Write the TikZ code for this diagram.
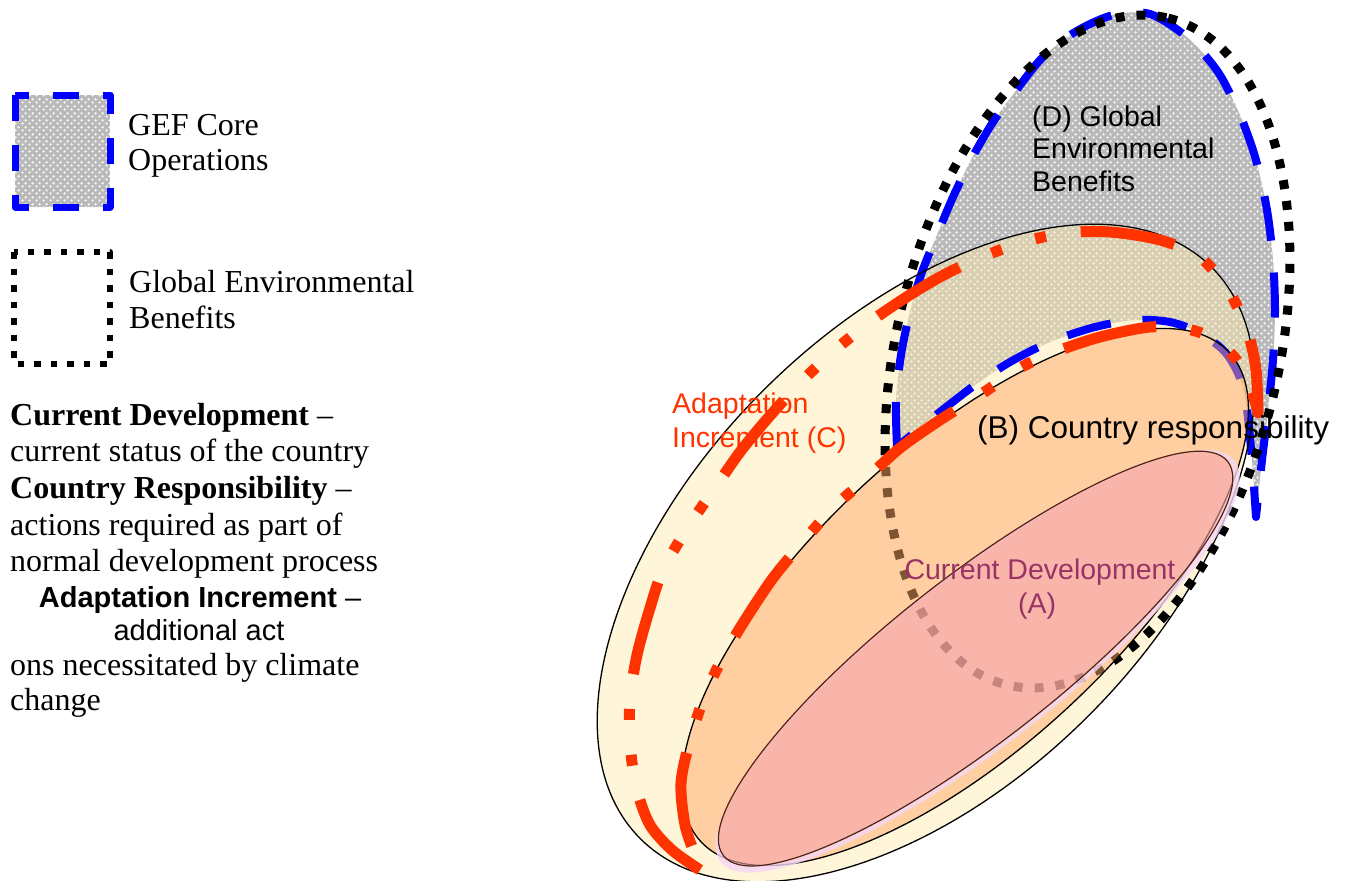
\documentclass[tikz,border=0pt]{standalone}
\usepackage{fontspec}
\setmainfont{Liberation Serif}
\newfontfamily\arialf{Liberation Sans}
\usetikzlibrary{patterns}
\pgfdeclarepatternformonly{gefdots}{\pgfqpoint{0pt}{0pt}}{\pgfqpoint{7pt}{7pt}}{\pgfqpoint{7pt}{7pt}}{%
  \pgfpathcircle{\pgfqpoint{1.75pt}{1.75pt}}{1.45pt}%
  \pgfpathcircle{\pgfqpoint{5.25pt}{5.25pt}}{1.45pt}%
  \pgfusepath{fill}}
\definecolor{redC}{RGB}{255,51,0}
\definecolor{blueD}{RGB}{0,0,255}
\definecolor{grayD}{RGB}{185,185,185}
\definecolor{yellowC}{RGB}{255,232,170}
\definecolor{orangeB}{RGB}{255,170,105}
\definecolor{pinkA}{RGB}{247,165,178}
\definecolor{lavA}{RGB}{245,215,245}
\definecolor{brownA}{RGB}{80,35,20}
\definecolor{purpA}{RGB}{153,51,102}
\tikzset{
  graytex/.style={fill=grayD, postaction={pattern=gefdots, pattern color=gray!8}},
  bluedash/.style={draw=blueD, line width=8pt, dash pattern=on 45pt off 32pt},
  blackdots/.style={draw=black, line width=9pt, dash pattern=on 9pt off 12pt},
  reddashdot/.style={draw=redC, line width=11pt, dash pattern=on 95pt off 35pt on 11pt off 35pt on 11pt off 35pt},
  thinline/.style={draw=black, line width=1.3pt},
  legtxt/.style={font=\fontsize{32}{36}\selectfont, anchor=base west, inner sep=0pt},
  legsans/.style={font=\arialf\fontsize{29}{33}\selectfont, anchor=base, inner sep=0pt},
  lbl/.style={font=\arialf\fontsize{28.5}{33}\selectfont, anchor=base west, inner sep=0pt},
}
\begin{document}
\begin{tikzpicture}[x=1pt,y=-1pt,line join=round]
\useasboundingbox (0,0) rectangle (1353,881);

% ---------- D : GEF core operations crescent (gray fill) ----------
\path[graytex]
  plot[smooth] coordinates {(897,447) (896,400) (901,355) (910,312) (922,272) (937,235) (953,197) (972,158) (993,122) (1015,92) (1042,58) (1075,32) (1113,15) (1150,14) (1188,38) (1218,72) (1240,115) (1256,160) (1267,210) (1273,260) (1275,310) (1273,360) (1268,410) (1262,460) (1256,517)}
  -- plot[smooth] coordinates {(1256,517) (1252,460) (1247,410) (1240,378) (1225,352) (1200,333) (1170,322) (1135,320) (1095,327) (1050,342) (1010,362) (975,385) (945,408) (920,428) (897,447)}
  -- cycle;

% ---------- C : outer ellipse (fill) ----------
\path[fill=yellowC, fill opacity=0.45, rotate around={45:(926,553)}] (926,553) ellipse [x radius=404, y radius=230];

% GEF core operations outline (blue)
\path[bluedash]
  plot[smooth] coordinates {(897,447) (896,400) (901,355) (910,312) (922,272) (937,235) (953,197) (972,158) (993,122) (1015,92) (1042,58) (1075,32) (1113,15) (1150,14) (1188,38) (1218,72) (1240,115) (1256,160) (1267,210) (1273,260) (1275,310) (1273,360) (1268,410) (1262,460) (1256,517)}
  -- plot[smooth] coordinates {(1256,517) (1252,460) (1247,410) (1240,378) (1225,352) (1200,333) (1170,322) (1135,320) (1095,327) (1050,342) (1010,362) (975,385) (945,408) (920,428) (897,447)}
  -- cycle;
% global environmental benefits (dotted)
\path[blackdots, rotate around={76.4:(1087.5,351.5)}] (1087.5,351.5) ellipse [x radius=343, y radius=191];

\path[thinline, rotate around={45:(926,553)}] (926,553) ellipse [x radius=404, y radius=230];
% ---------- B : country responsibility ----------
\path[thinline, fill=orangeB, fill opacity=0.5, rotate around={42.8:(965,597)}] (965,597) ellipse [x radius=360, y radius=151];
% ---------- A : current development ----------
\path[fill=lavA, fill opacity=0.8, even odd rule, rotate around={38:(975.6,658.6)}]
  (975.6,662) ellipse [x radius=326, y radius=83.5]
  (975.6,658.6) ellipse [x radius=320, y radius=82];
\path[draw=brownA, line width=1.2pt, fill=pinkA, fill opacity=0.6, rotate around={38:(975.6,658.6)}] (975.6,658.6) ellipse [x radius=320, y radius=82];

% ---------- adaptation increment (red dash-dot crescent) ----------
\path[reddashdot]
  plot[smooth] coordinates {(700,870) (672,850) (650,825) (637,790) (630,745) (630,700) (637,655) (650,608) (663,570) (688,527) (715,488) (740,452) (768,418) (800,383) (835,350) (870,322) (905,298) (940,277) (975,260) (1020,243) (1065,233) (1110,232) (1160,240) (1200,257) (1230,293) (1248,333) (1256,370) (1258,413)}
  -- plot[smooth] coordinates {(1258,413) (1250,385) (1235,358) (1212,338) (1187,329) (1150,327) (1100,337) (1055,352) (1020,368) (980,395) (940,420) (900,448) (867,478) (833,508) (802,543) (773,578) (745,620) (723,657) (705,695) (690,740) (681,783) (685,825) (695,855) (700,870)}
  -- cycle;

% ---------- labels in the diagram ----------
\node[lbl] (d1) at (1032,126) {(D) Global};
\node[lbl] (d2) at (1032,158.5) {Environmental};
\node[lbl] (d3) at (1032,191) {Benefits};
\node[lbl, text=redC] (c1) at (672,413) {Adaptation};
\node[lbl, text=redC] (c2) at (672,447) {Increment (C)};
\node[lbl, font=\arialf\fontsize{31.5}{36}\selectfont] (b1) at (977,438) {(B) Country responsibility};
\node[lbl, text=purpA, anchor=base] (a1) at (1040,579) {Current Development};
\node[lbl, text=purpA, anchor=base] (a2) at (1037,613) {(A)};

% ---------- legend ----------
\path[graytex] (15,95) rectangle (110,207);
\draw[blueD, line width=7pt, dash pattern=on 26pt off 24pt] (15,95) rectangle (110,207);
\draw[black, line width=6.5pt, dash pattern=on 6.5pt off 10pt] (14,252) rectangle (110,364);
\node[legtxt] (g1) at (128,135) {GEF Core};
\node[legtxt] (g2) at (128,170.5) {Operations};
\node[legtxt] (e1) at (129,292) {Global Environmental};
\node[legtxt] (e2) at (129,328) {Benefits};

\node[legtxt] (t1) at (10,425) {\textbf{Current Development} –};
\node[legtxt] (t2) at (10,461.5) {current status of the country};
\node[legtxt] (t3) at (10,498) {\textbf{Country Responsibility} –};
\node[legtxt] (t4) at (10,535) {actions required as part of};
\node[legtxt] (t5) at (10,571.5) {normal development process};
\node[legsans] (t6) at (200,607) {\textbf{Adaptation Increment} –};
\node[legsans] (t7) at (199,640) {additional act};
\node[legtxt] (t8) at (10,675) {ons necessitated by climate};
\node[legtxt] (t9) at (10,710) {change};
\end{tikzpicture}
\end{document}
